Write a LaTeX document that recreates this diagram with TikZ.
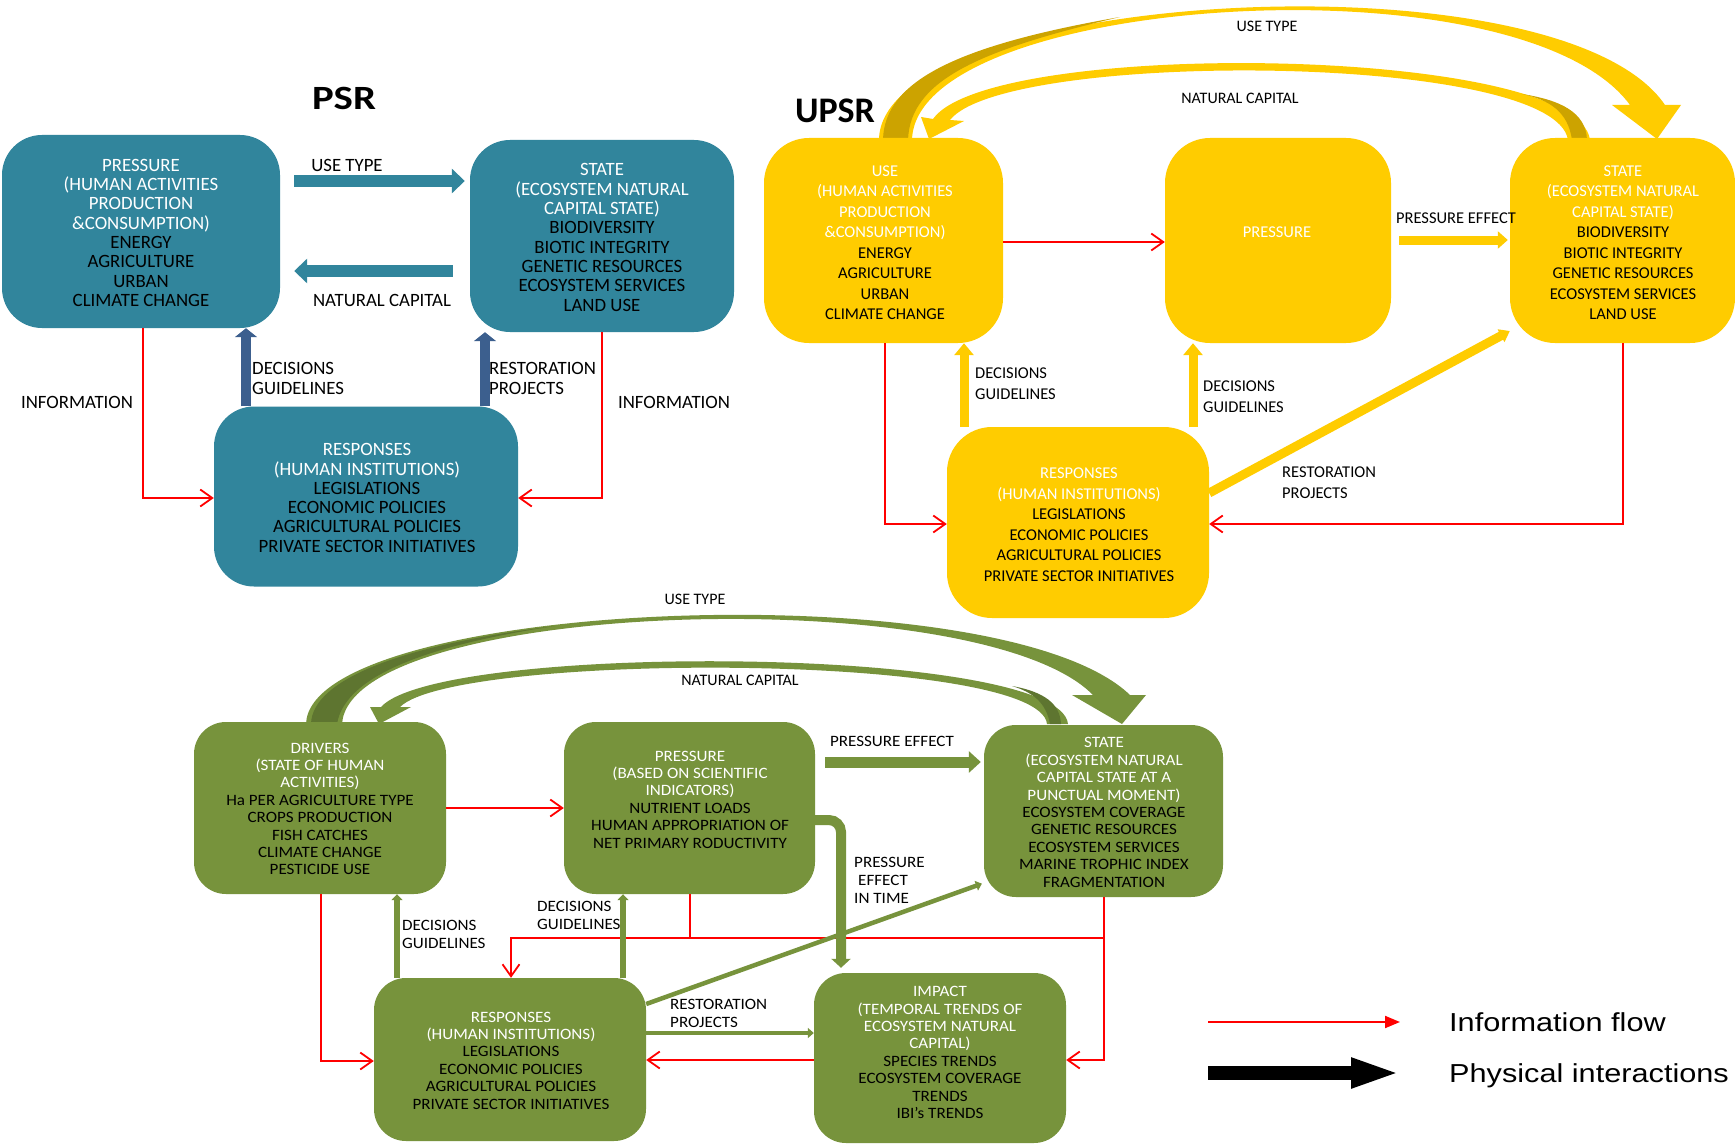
\documentclass[tikz,border=0pt]{standalone}
\usepackage{fontspec}
\setmainfont{Carlito}
\newfontfamily\gfont{Carlito}[FakeStretch=1.08]
\newfontfamily\legfont{Liberation Sans}[FakeStretch=1.18]
\newfontfamily\psrtitlefont{Carlito}[FakeStretch=1.2]
\usetikzlibrary{arrows.meta}
\definecolor{tealb}{HTML}{31859C}
\definecolor{navyb}{HTML}{3C5F8E}
\definecolor{yel}{HTML}{FFCC00}
\definecolor{yeldark}{HTML}{CCA300}
\definecolor{grn}{HTML}{77933C}
\definecolor{grndark}{HTML}{5E7530}
\newcommand\wt[1]{\textcolor{white}{#1}}
\newcommand\psrf{\fontsize{18.8}{19.3}\selectfont}
\newcommand\psrlf{\fontsize{18.8}{20}\selectfont}
\newcommand\upf{\fontsize{16.5}{20.5}\selectfont}
\newcommand\uplf{\fontsize{16.5}{21}\selectfont}
\newcommand\grnf{\gfont\fontsize{15.8}{17.4}\selectfont}
\newcommand\grnlf{\gfont\fontsize{15.8}{18}\selectfont}
\begin{document}
\begin{tikzpicture}[x=1pt,y=-1pt,
  psrbox/.style={fill=tealb, rounded corners=40pt, inner sep=0pt},
  upbox/.style={fill=yel, rounded corners=45pt, inner sep=0pt},
  grbox/.style={fill=grn, rounded corners=32pt, inner sep=0pt},
  psrtxt/.style={font=\psrf, align=center, inner sep=0pt},
  uptxt/.style={font=\upf, align=center, inner sep=0pt},
  grtxt/.style={font=\grnf, align=center, inner sep=0pt},
  psrlab/.style={font=\psrlf, align=left, inner sep=0pt},
  uplab/.style={font=\uplf, align=left, inner sep=0pt},
  grlab/.style={font=\grnlf, align=left, inner sep=0pt},
  arclab/.style={font=\fontsize{16}{18}\selectfont, inner sep=0pt},
  info/.style={draw=red, line width=1.8pt, -{Straight Barb[length=12pt,width=17pt]}},
  redline/.style={draw=red, line width=1.8pt},
  psrphys/.style={draw=tealb, line width=12pt, -{Triangle[length=13pt,width=24pt]}},
  psrup/.style={draw=navyb, line width=10pt, -{Triangle[length=9pt,width=22pt]}},
  upphys/.style={draw=yel, line width=9pt, -{Triangle[length=11pt,width=18pt]}},
  grphys/.style={draw=grn, line width=11pt, -{Triangle[length=12pt,width=21pt]}},
  grup/.style={draw=grn, line width=6pt, -{Triangle[length=6pt,width=11pt]}},
  grthin/.style={draw=grn, line width=4.5pt, -{Triangle[length=6pt,width=10pt]}}
]
\fill[white] (0,0) rectangle (1735,1145);
\useasboundingbox (0,0) rectangle (1735,1145);

% ---------------- arcs (drawn first) ----------------
\fill[yel] (879,140) .. controls (880,-10) and (1560,-50) .. (1665,105) -- (1681,105) -- (1657,139) -- (1612,105) -- (1630,105) .. controls (1520,-45) and (915,-5) .. (912,140) -- cycle;
\fill[yeldark] (883,140) .. controls (884,80) and (960,45) .. (1120,17) .. controls (980,50) and (910,80) .. (908,140) -- cycle;
\fill[yel] (1590,140) .. controls (1578,45) and (990,38) .. (933,119) -- (921,117) -- (929,139) -- (964,121) -- (950,120) .. controls (1005,50) and (1555,52) .. (1568,140) -- cycle;
\fill[yeldark] (1572,140) .. controls (1568,112) and (1550,100) .. (1522,94) .. controls (1560,100) and (1586,112) .. (1587,140) -- cycle;

\fill[grn] (306,724) .. controls (310,600) and (1000,570) .. (1130,695) -- (1146,695) -- (1122,724) -- (1072,695) -- (1093,695) .. controls (980,580) and (350,600) .. (342,724) -- cycle;
\fill[grndark] (311,724) .. controls (312,680) and (400,645) .. (555,626) .. controls (430,645) and (345,675) .. (337,724) -- cycle;
\fill[grn] (1068,724) .. controls (1060,645) and (440,642) .. (381,707) -- (370,707) -- (379,724) -- (411,707) -- (400,707) .. controls (455,652) and (1040,652) .. (1047,724) -- cycle;
\fill[grndark] (1050,724) .. controls (1046,702) and (1032,692) .. (1012,686) .. controls (1045,692) and (1060,704) .. (1061,724) -- cycle;

% ---------------- titles ----------------
\node[font=\psrtitlefont\bfseries\fontsize{34}{40}\selectfont, anchor=base, inner sep=0pt] (psrtitle) at (344,109.3) {PSR};
\node[font=\bfseries\fontsize{36}{40}\selectfont, anchor=base, inner sep=0pt] (uptitle) at (835,123) {UPSR};

% ---------------- PSR ----------------
\node[psrbox, minimum width=278pt, minimum height=193pt] (psrP) at (141,231.5) {};
\node[psrbox, minimum width=264pt, minimum height=192pt] (psrS) at (602,236) {};
\node[psrbox, minimum width=304pt, minimum height=180pt] (psrR) at (366,496.5) {};
\node[psrtxt] (psrPt) at (141,232.9) {\wt{PRESSURE}\\\wt{(HUMAN ACTIVITIES}\\\wt{PRODUCTION}\\\wt{\&CONSUMPTION)}\\ENERGY\\AGRICULTURE\\URBAN\\CLIMATE CHANGE};
\node[psrtxt] (psrSt) at (602,237.5) {\wt{STATE}\\\wt{(ECOSYSTEM NATURAL}\\\wt{CAPITAL STATE)}\\BIODIVERSITY\\BIOTIC INTEGRITY\\GENETIC RESOURCES\\ECOSYSTEM SERVICES\\LAND USE};
\node[psrtxt] (psrRt) at (367,498) {\wt{RESPONSES}\\\wt{(HUMAN INSTITUTIONS)}\\LEGISLATIONS\\ECONOMIC POLICIES\\AGRICULTURAL POLICIES\\PRIVATE SECTOR INITIATIVES};

\draw[psrphys, shorten <=14pt, shorten >=5pt] (psrP.east |- 0,181) -- (psrS.west |- 0,181);
\draw[psrphys, shorten <=17pt, shorten >=14pt] (psrS.west |- 0,271) -- (psrP.east |- 0,271);
\draw[psrup] (psrR.north -| 246,0) -- (psrP.south -| 246,0);
\draw[psrup] (psrR.north -| 485,0) -- (psrS.south -| 485,0);
\draw[info] (psrP.south -| 143,0) |- (psrR.west |- 0,498);
\draw[info] (psrS.south -| 602,0) |- (psrR.east |- 0,498);

\node[font=\psrlf, inner sep=0pt] (psrl1) at (347,165) {USE TYPE};
\node[font=\psrlf, inner sep=0pt] (psrl2) at (382,300) {NATURAL CAPITAL};
\node[psrlab, anchor=west] (psrl3) at (252,378) {DECISIONS\\GUIDELINES};
\node[psrlab, anchor=west] (psrl4) at (489,378) {RESTORATION\\PROJECTS};
\node[font=\psrlf, inner sep=0pt] (psrl5) at (77,402) {INFORMATION};
\node[font=\psrlf, inner sep=0pt] (psrl6) at (674,402) {INFORMATION};

% ---------------- UPSR ----------------
\node[upbox, minimum width=239pt, minimum height=205pt] (uU) at (883.5,240.5) {};
\node[upbox, minimum width=226pt, minimum height=205pt] (uP) at (1278,240.5) {};
\node[upbox, minimum width=225pt, minimum height=205pt] (uS) at (1622.5,240.5) {};
\node[upbox, minimum width=262pt, minimum height=191pt] (uR) at (1078,522.5) {};
\node[uptxt] (uUt) at (885,242.5) {\wt{USE}\\\wt{(HUMAN ACTIVITIES}\\\wt{PRODUCTION}\\\wt{\&CONSUMPTION)}\\ENERGY\\AGRICULTURE\\URBAN\\CLIMATE CHANGE};
\node[uptxt] (uPt) at (1277,232) {\wt{PRESSURE}};
\node[uptxt] (uSt) at (1623,242.5) {\wt{STATE}\\\wt{(ECOSYSTEM NATURAL}\\\wt{CAPITAL STATE)}\\BIODIVERSITY\\BIOTIC INTEGRITY\\GENETIC RESOURCES\\ECOSYSTEM SERVICES\\LAND USE};
\node[uptxt] (uRt) at (1079,524.5) {\wt{RESPONSES}\\\wt{(HUMAN INSTITUTIONS)}\\LEGISLATIONS\\ECONOMIC POLICIES\\AGRICULTURAL POLICIES\\PRIVATE SECTOR INITIATIVES};

\draw[info] (uU.east |- 0,242) -- (uP.west |- 0,242);
\draw[upphys, -{Triangle[length=10pt,width=17pt]}, shorten <=8pt, shorten >=2pt] (uP.east |- 0,240) -- (uS.west |- 0,240);
\draw[upphys, -{Triangle[length=12pt,width=19pt]}] (uR.north -| 964,0) -- (uU.south -| 964,0);
\draw[upphys, -{Triangle[length=12pt,width=19pt]}] (uR.north -| 1193,0) -- (uP.south -| 1193,0);
\draw[upphys, -{Triangle[length=10pt,width=14pt]}] (uR.east |- 0,493) -- (uS.west |- 0,331);
\draw[info] (uU.south -| 885,0) |- (uR.west |- 0,524);
\draw[info] (uS.south -| 1623,0) |- (uR.east |- 0,524);

\node[arclab] (ul1) at (1267,26) {USE TYPE};
\node[arclab] (ul2) at (1240,98) {NATURAL CAPITAL};
\node[font=\upf, inner sep=0pt] (ul3) at (1456,218) {PRESSURE EFFECT};
\node[uplab, anchor=west] (ul4) at (975,383.5) {DECISIONS\\GUIDELINES};
\node[uplab, anchor=west] (ul5) at (1203,397) {DECISIONS\\GUIDELINES};
\node[uplab, anchor=west] (ul6) at (1282,483) {RESTORATION\\PROJECTS};

% ---------------- Green (DPSIR) ----------------
\node[grbox, minimum width=252pt, minimum height=172pt] (gD) at (320,808) {};
\node[grbox, minimum width=251pt, minimum height=172pt] (gP) at (689.5,808) {};
\node[grbox, minimum width=239pt, minimum height=172pt] (gS) at (1103.5,811) {};
\node[grbox, minimum width=272pt, minimum height=163pt] (gR) at (510,1059.5) {};
\node[grbox, minimum width=252pt, minimum height=170pt] (gI) at (940,1058) {};
\node[grtxt] (gDt) at (320,809) {\wt{DRIVERS}\\\wt{(STATE OF HUMAN}\\\wt{ACTIVITIES)}\\Ha PER AGRICULTURE TYPE\\CROPS PRODUCTION\\FISH CATCHES\\CLIMATE CHANGE\\PESTICIDE USE};
\node[grtxt] (gPt) at (690,799.5) {\wt{PRESSURE}\\\wt{(BASED ON SCIENTIFIC}\\\wt{INDICATORS)}\\NUTRIENT LOADS\\HUMAN APPROPRIATION OF\\NET PRIMARY RODUCTIVITY};
\node[grtxt] (gSt) at (1104,812.5) {\wt{STATE}\\\wt{(ECOSYSTEM NATURAL}\\\wt{CAPITAL STATE AT A}\\\wt{PUNCTUAL MOMENT)}\\ECOSYSTEM COVERAGE\\GENETIC RESOURCES\\ECOSYSTEM SERVICES\\MARINE TROPHIC INDEX\\FRAGMENTATION};
\node[grtxt] (gIt) at (940,1052.5) {\wt{IMPACT}\\\wt{(TEMPORAL TRENDS OF}\\\wt{ECOSYSTEM NATURAL}\\\wt{CAPITAL)}\\SPECIES TRENDS\\ECOSYSTEM COVERAGE\\TRENDS\\IBI’s TRENDS};
\node[grtxt] (gRt) at (511,1060.5) {\wt{RESPONSES}\\\wt{(HUMAN INSTITUTIONS)}\\LEGISLATIONS\\ECONOMIC POLICIES\\AGRICULTURAL POLICIES\\PRIVATE SECTOR INITIATIVES};

\coordinate (gsj) at (1104,938);
\coordinate (gpj) at (690,938);
\draw[info] (gD.east |- 0,808) -- (gP.west |- 0,808);
\draw[info] (gD.south -| 321,0) |- (gR.west |- 0,1061);
\draw[redline] (gP.south -| gpj) -- (gpj);
\draw[info] (gS.south -| gsj) -- (gsj) -| (gR.north -| 511,0);
\draw[info] (gsj) |- (gI.east |- 0,1060);
\draw[info] (gI.west |- 0,1060) -- (gR.east |- 0,1060);

\draw[grphys, shorten <=10pt, shorten >=3pt] (gP.east |- 0,762) -- (gS.west |- 0,762);
\draw[draw=grn, line width=10pt, rounded corners=12pt, -{Triangle[length=9pt,width=19pt]}, shorten >=5pt] (gP.east |- 0,820) -| (gI.north -| 841,0);
\draw[grup] (gR.north -| 397,0) -- (gD.south -| 397,0);
\draw[grup] (gR.north -| 623,0) -- (gP.south -| 623,0);
\draw[grthin] (gR.east |- 0,1033) -- (gI.west |- 0,1033);
\draw[grthin, shorten >=2pt] (gR.east |- 0,1004) -- (gS.west |- 0,883);

\node[arclab] (gl1) at (695,599) {USE TYPE};
\node[arclab] (gl2) at (740,680) {NATURAL CAPITAL};
\node[font=\grnlf, inner sep=0pt] (gl3) at (892,741) {PRESSURE EFFECT};
\node[grlab, anchor=west] (gl4) at (854,880.5) {PRESSURE\\\hspace*{4pt}EFFECT\\IN TIME};
\node[grlab, anchor=west] (gl5) at (402,934) {DECISIONS\\GUIDELINES};
\node[grlab, anchor=west] (gl6) at (537,915) {DECISIONS\\GUIDELINES};
\node[grlab, anchor=west] (gl7) at (670,1013) {RESTORATION\\PROJECTS};

% ---------------- legend ----------------
\coordinate (lra) at (1208,1022);
\coordinate (lrb) at (1400,1022);
\draw[draw=red, line width=2pt, -{Triangle[length=15pt,width=12pt]}] (lra) -- (lrb);
\coordinate (lba) at (1208,1073);
\coordinate (lbb) at (1401,1073);
\draw[draw=black, line width=14pt, -{Triangle[length=50pt,width=27pt]}] (lba) -- (lbb);
\node[font=\legfont\fontsize{26}{30}\selectfont, anchor=base west, inner sep=0pt] (leg1) at (1449,1031) {Information flow};
\node[font=\legfont\fontsize{26}{30}\selectfont, anchor=base west, inner sep=0pt] (leg2) at (1449,1082) {Physical interactions};
\end{tikzpicture}
\end{document}
